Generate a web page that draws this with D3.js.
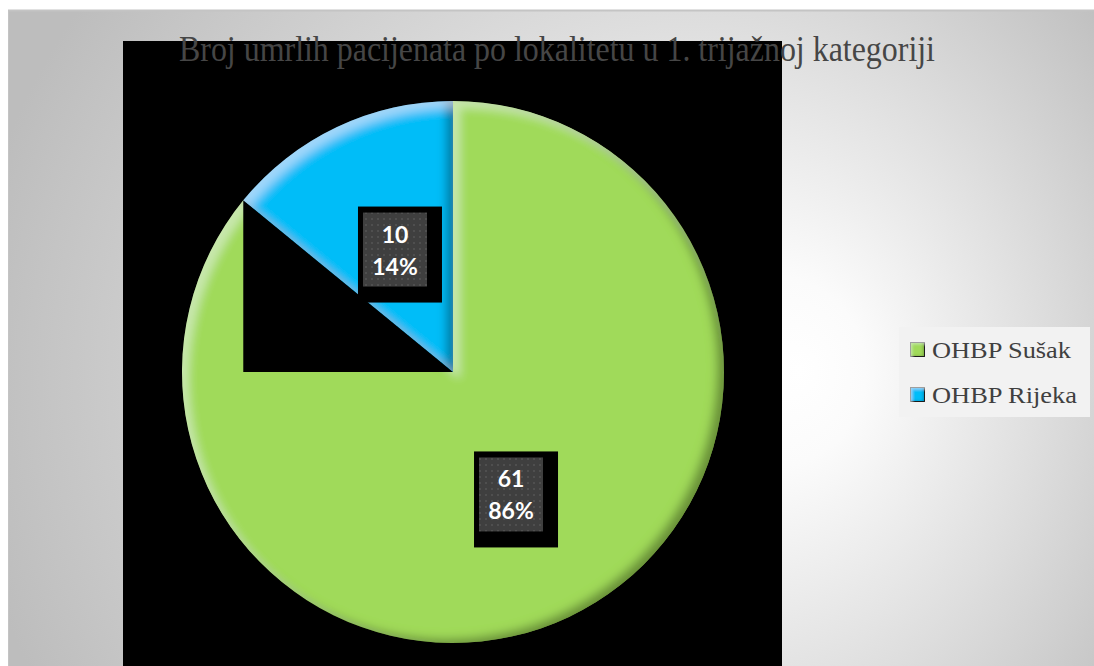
<!DOCTYPE html>
<html><head><meta charset="utf-8">
<script src="https://cdn.jsdelivr.net/npm/d3@7"></script>
<style>html,body{margin:0;padding:0;background:#fff;overflow:hidden}</style>
</head><body>
<script>
const titleText = "Broj umrlih pacijenata po lokalitetu u 1. trijažnoj kategoriji";
const categories = ["OHBP Sušak", "OHBP Rijeka"];
const values = [61, 10];
const colors = ["#a0da5a", "#00bdf8"];

const W = 1094, H = 666;
const svg = d3.select("body").append("svg").attr("width", W).attr("height", H);
const defs = svg.append("defs");

const bg = defs.append("radialGradient").attr("id","bg").attr("gradientUnits","userSpaceOnUse")
  .attr("cx",600).attr("cy",380).attr("r",640).attr("fx",800).attr("fy",370);
bg.append("stop").attr("offset","0").attr("stop-color","#ffffff");
bg.append("stop").attr("offset","0.15").attr("stop-color","#fbfbfb");
bg.append("stop").attr("offset","1").attr("stop-color","#bdbdbd");

const pat = defs.append("pattern").attr("id","dots").attr("patternUnits","userSpaceOnUse").attr("width",6).attr("height",6);
pat.append("rect").attr("width",6).attr("height",6).attr("fill","#3f3f3f");
pat.append("rect").attr("x",2).attr("y",2).attr("width",2).attr("height",2).attr("fill","#4f4f4f");

function bevel(id, blur, off, shadowOp, hiOp){
  const f = defs.append("filter").attr("id",id).attr("x","-5%").attr("y","-5%").attr("width","110%").attr("height","110%");
  f.append("feGaussianBlur").attr("in","SourceAlpha").attr("stdDeviation",blur).attr("result","b");
  f.append("feOffset").attr("in","b").attr("dx",-off).attr("dy",-off*0.6).attr("result","o1");
  f.append("feComposite").attr("in","SourceAlpha").attr("in2","o1").attr("operator","arithmetic")
    .attr("k1",0).attr("k2",1).attr("k3",-1).attr("k4",0).attr("result","m1");
  f.append("feFlood").attr("flood-color","#000").attr("flood-opacity",shadowOp).attr("result","fl1");
  f.append("feComposite").attr("in","fl1").attr("in2","m1").attr("operator","in").attr("result","sh");
  f.append("feOffset").attr("in","b").attr("dx",off).attr("dy",off).attr("result","o2");
  f.append("feComposite").attr("in","SourceAlpha").attr("in2","o2").attr("operator","arithmetic")
    .attr("k1",0).attr("k2",1).attr("k3",-1).attr("k4",0).attr("result","m2");
  f.append("feFlood").attr("flood-color","#fff").attr("flood-opacity",hiOp).attr("result","fl2");
  f.append("feComposite").attr("in","fl2").attr("in2","m2").attr("operator","in").attr("result","hi");
  const m = f.append("feMerge");
  m.append("feMergeNode").attr("in","SourceGraphic");
  m.append("feMergeNode").attr("in","sh");
  m.append("feMergeNode").attr("in","hi");
}
bevel("bevel", 5, 7, 0.6, 0.35);
bevel("bevelSmall", 1.5, 2, 0.5, 0.35);

svg.append("rect").attr("x",8).attr("y",10).attr("width",W-8).attr("height",H-10).attr("fill","url(#bg)");
svg.append("line").attr("x1",8).attr("x2",W).attr("y1",10.5).attr("y2",10.5).attr("stroke","#c4c4c4").attr("stroke-width",2);
svg.append("line").attr("x1",8.5).attr("x2",8.5).attr("y1",10).attr("y2",H).attr("stroke","#c4c4c4").attr("stroke-width",1);

svg.append("rect").attr("x",123).attr("y",41).attr("width",659).attr("height",H-41).attr("fill","#000");

svg.append("text").attr("x",179).attr("y",61).attr("textLength",756).attr("lengthAdjust","spacingAndGlyphs")
  .attr("font-family","'Liberation Serif','Times New Roman',serif").attr("font-size",35)
  .attr("fill","#464646").text(titleText);

const cx = 453, cy = 372, R = 271;
const pie = d3.pie().sort(null).value(d => d)(values);
const arc = d3.arc().innerRadius(0).outerRadius(R);
const g = svg.append("g").attr("transform",`translate(${cx},${cy})`);

g.append("path").datum(pie[0]).attr("d",arc).attr("fill",colors[0]).attr("filter","url(#bevel)");

const a1 = pie[1].startAngle;
const px = R*Math.sin(a1), py = -R*Math.cos(a1);
g.append("rect").attr("x",Math.min(px,0)).attr("y",Math.min(py,0))
  .attr("width",Math.abs(px)).attr("height",Math.abs(py)).attr("fill","#000");

g.append("path").datum(pie[1]).attr("d",arc).attr("fill",colors[1]).attr("filter","url(#bevel)");

const total = d3.sum(values);
pie.forEach((p,i)=>{
  const [lx,ly] = arc.centroid(p);
  const bw = 64, bh = 74;
  const bx = lx - bw/2, by = ly - bh/2;
  g.append("rect").attr("x",bx-5).attr("y",by-6).attr("width",bw+20).attr("height",bh+22).attr("fill","#000");
  g.append("rect").attr("x",bx).attr("y",by).attr("width",bw).attr("height",bh).attr("fill","url(#dots)");
  const t = g.append("text").attr("text-anchor","middle").attr("font-family","Lato,'Open Sans',sans-serif")
    .attr("font-weight","bold").attr("font-size",23).attr("fill","#fff");
  t.append("tspan").attr("x",lx).attr("y",ly-7).text(values[i]);
  t.append("tspan").attr("x",lx).attr("y",ly+25).text(Math.round(values[i]/total*100)+"%");
});

const lg = svg.append("g");
lg.append("rect").attr("x",899).attr("y",327).attr("width",191).attr("height",90).attr("fill","#f2f2f2");
const legendWidths = [139, 145];
categories.forEach((c,i)=>{
  const y = 342 + i*45;
  lg.append("rect").attr("x",910.5).attr("y",y+0.5).attr("width",14).attr("height",14)
    .attr("fill",colors[i]).attr("stroke","#000").attr("stroke-width",1).attr("filter","url(#bevelSmall)");
  lg.append("text").attr("x",932).attr("y",y+16).attr("font-family","'Liberation Serif','Times New Roman',serif")
    .attr("font-size",24).attr("textLength",legendWidths[i]).attr("lengthAdjust","spacingAndGlyphs")
    .attr("fill","#404040").text(c);
});
</script>
</body></html>
